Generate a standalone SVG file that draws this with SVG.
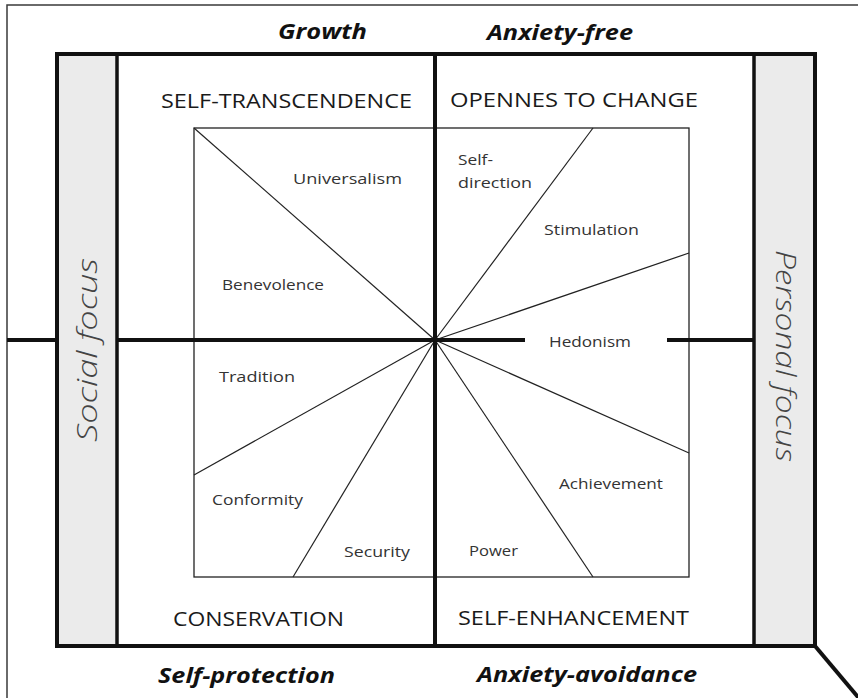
<svg xmlns="http://www.w3.org/2000/svg" width="858" height="698" viewBox="0 0 858 698">
  <style>
    .frame { fill: none; stroke: #3a3a3a; stroke-width: 1.5; }
    .box-fill { fill: #ffffff; }
    .box-edge { fill: none; stroke: #111; stroke-width: 4; }
    .panel { fill: #ebebeb; }
    .divider { stroke: #111; stroke-width: 3.5; fill: none; }
    .axis { stroke: #111; stroke-width: 4; fill: none; }
    .square { fill: none; stroke: #222; stroke-width: 1.3; }
    .ray { stroke: #222; stroke-width: 1.2; fill: none; }
    .quad { font-family: "Open Sans", "Liberation Sans", sans-serif; font-size: 20px; fill: #1a1a1a; }
    .dim { font-family: "Open Sans", "Liberation Sans", sans-serif; font-size: 21px; font-weight: bold; font-style: italic; fill: #111; }
    .val { font-family: "Open Sans", "Liberation Sans", sans-serif; font-size: 15px; fill: #333; }
    .focus { font-family: "Open Sans", "Liberation Sans", sans-serif; font-size: 27px; font-weight: 300; font-style: italic; fill: #444; }
  </style>

  <rect width="858" height="698" fill="#ffffff"/>

  <!-- thin outer frame, open to the right and bottom -->
  <g id="outer-frame">
    <path class="frame" d="M7,700 V5 H860"/>
  </g>

  <!-- main box with the two side panels -->
  <g id="main-box">
    <rect class="box-fill" x="57" y="54" width="758" height="592"/>
    <rect class="panel" x="59" y="56" width="58" height="588"/>
    <rect class="panel" x="754" y="56" width="59" height="588"/>
    <line class="divider" x1="117" y1="54" x2="117" y2="646"/>
    <line class="divider" x1="754" y1="54" x2="754" y2="646"/>
    <rect class="box-edge" x="57" y="54" width="758" height="592"/>
  </g>

  <g id="social-focus">
    <text class="focus" transform="translate(97,442) rotate(-90)" textLength="184" lengthAdjust="spacingAndGlyphs">Social focus</text>
  </g>
  <g id="personal-focus">
    <text class="focus" transform="translate(776,250) rotate(90)" textLength="212" lengthAdjust="spacingAndGlyphs">Personal focus</text>
  </g>

  <!-- inner value square -->
  <g id="value-square">
    <rect class="square" x="194" y="128" width="495" height="449"/>
  </g>

  <!-- axes and rays -->
  <g id="connectors">
    <line class="ray" x1="435" y1="340" x2="194" y2="128"/>
    <line class="ray" x1="435" y1="340" x2="593" y2="128"/>
    <line class="ray" x1="435" y1="340" x2="689" y2="253"/>
    <line class="ray" x1="435" y1="340" x2="689" y2="453"/>
    <line class="ray" x1="435" y1="340" x2="593" y2="577"/>
    <line class="ray" x1="435" y1="340" x2="293" y2="577"/>
    <line class="ray" x1="435" y1="340" x2="194" y2="475"/>
    <line class="axis" x1="435" y1="54" x2="435" y2="646"/>
    <line class="axis" x1="7" y1="340" x2="57" y2="340"/>
    <line class="axis" x1="117" y1="340" x2="525" y2="340"/>
    <line class="axis" x1="667" y1="340" x2="754" y2="340"/>
    <line class="axis" x1="815" y1="646" x2="863" y2="703"/>
  </g>

  <!-- dimension labels -->
  <g id="growth"><text class="dim" x="278" y="39" textLength="89" lengthAdjust="spacingAndGlyphs">Growth</text></g>
  <g id="anxiety-free"><text class="dim" x="487" y="40" textLength="146" lengthAdjust="spacingAndGlyphs">Anxiety-free</text></g>
  <g id="self-protection"><text class="dim" x="158" y="683" textLength="177" lengthAdjust="spacingAndGlyphs">Self-protection</text></g>
  <g id="anxiety-avoidance"><text class="dim" x="477" y="682" textLength="220" lengthAdjust="spacingAndGlyphs">Anxiety-avoidance</text></g>

  <!-- quadrant labels -->
  <g id="self-transcendence"><text class="quad" x="161" y="108" textLength="251" lengthAdjust="spacingAndGlyphs">SELF-TRANSCENDENCE</text></g>
  <g id="openness-to-change"><text class="quad" x="450" y="107" textLength="248" lengthAdjust="spacingAndGlyphs">OPENNES TO CHANGE</text></g>
  <g id="conservation"><text class="quad" x="173" y="626" textLength="171" lengthAdjust="spacingAndGlyphs">CONSERVATION</text></g>
  <g id="self-enhancement"><text class="quad" x="458" y="625" textLength="231" lengthAdjust="spacingAndGlyphs">SELF-ENHANCEMENT</text></g>

  <!-- value labels -->
  <g id="universalism"><text class="val" x="293" y="184" textLength="109" lengthAdjust="spacingAndGlyphs">Universalism</text></g>
  <g id="self-direction">
    <text class="val" x="458" y="165" textLength="35" lengthAdjust="spacingAndGlyphs">Self-</text>
    <text class="val" x="458" y="188" textLength="74" lengthAdjust="spacingAndGlyphs">direction</text>
  </g>
  <g id="stimulation"><text class="val" x="544" y="235" textLength="95" lengthAdjust="spacingAndGlyphs">Stimulation</text></g>
  <g id="benevolence"><text class="val" x="222" y="290" textLength="102" lengthAdjust="spacingAndGlyphs">Benevolence</text></g>
  <g id="hedonism"><text class="val" x="549" y="347" textLength="82" lengthAdjust="spacingAndGlyphs">Hedonism</text></g>
  <g id="tradition"><text class="val" x="219" y="382" textLength="76" lengthAdjust="spacingAndGlyphs">Tradition</text></g>
  <g id="achievement"><text class="val" x="559" y="489" textLength="104" lengthAdjust="spacingAndGlyphs">Achievement</text></g>
  <g id="conformity"><text class="val" x="212" y="505" textLength="91" lengthAdjust="spacingAndGlyphs">Conformity</text></g>
  <g id="security"><text class="val" x="344" y="557" textLength="66" lengthAdjust="spacingAndGlyphs">Security</text></g>
  <g id="power"><text class="val" x="469" y="556" textLength="49" lengthAdjust="spacingAndGlyphs">Power</text></g>
</svg>
